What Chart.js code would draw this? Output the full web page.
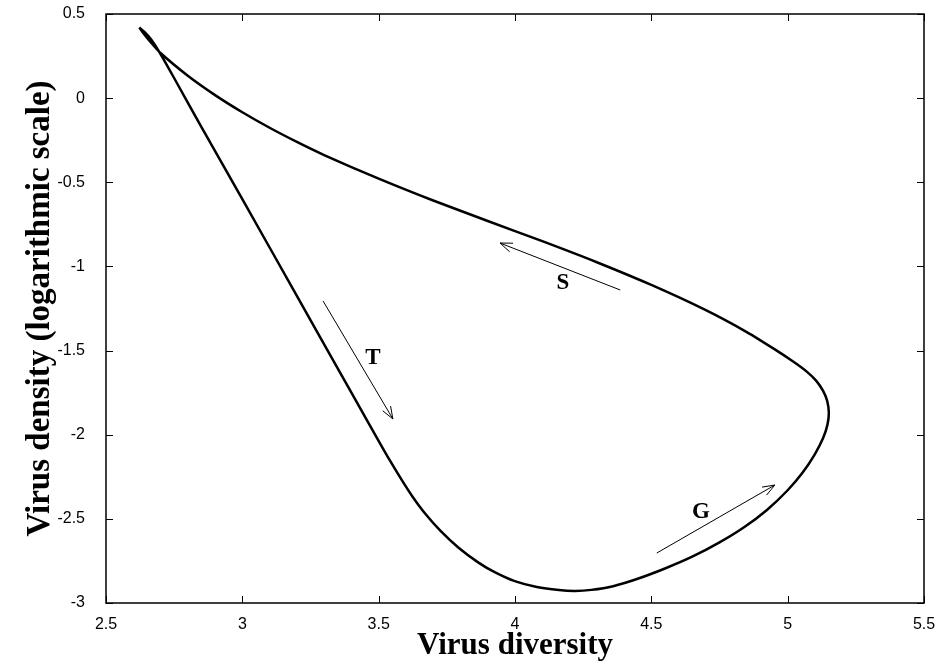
<!DOCTYPE html>
<html>
<head>
<meta charset="utf-8">
<script src="https://cdn.jsdelivr.net/npm/chart.js@4"></script>
<style>
  html, body { margin: 0; padding: 0; background: #fff; }
</style>
</head>
<body>
<canvas id="loopChart" width="941" height="665"></canvas>
<script>
// T branch: from the top-left tip down to the bottom
var tX = [2.622, 2.64, 2.665, 2.698, 2.76, 2.845, 3.0, 3.2, 3.4, 3.494, 3.54, 3.585, 3.625, 3.671, 3.726, 3.792, 3.866, 3.929, 3.999, 4.08, 4.161];
var tY = [0.42, 0.395, 0.35, 0.268, 0.09, -0.157, -0.60, -1.175, -1.75, -2.02, -2.15, -2.27, -2.37, -2.47, -2.57, -2.67, -2.76, -2.82, -2.87, -2.905, -2.923];
// G branch: bottom up to the right-hand turn
var gX = [4.22, 4.28, 4.36, 4.45, 4.55, 4.65, 4.75, 4.84, 4.924, 5.00, 5.055, 5.10, 5.13, 5.146, 5.151];
var gY = [-2.928, -2.922, -2.900, -2.856, -2.795, -2.725, -2.64, -2.55, -2.447, -2.33, -2.225, -2.115, -2.02, -1.94, -1.87];
// S branch: back to the tip
var sX = [5.145, 5.13, 5.105, 5.07, 5.02, 4.95, 4.85, 4.70, 4.50, 4.30, 4.10, 3.90, 3.70, 3.50, 3.30, 3.20, 3.10, 3.00, 2.90, 2.80, 2.70, 2.66, 2.635, 2.622];
var sY = [-1.80, -1.74, -1.68, -1.625, -1.565, -1.49, -1.39, -1.26, -1.11, -0.975, -0.85, -0.730, -0.608, -0.478, -0.338, -0.260, -0.176, -0.084, 0.018, 0.133, 0.268, 0.34, 0.39, 0.42];

// direction arrows (data units)
var arrowNames = ['T', 'G', 'S'];
var arrowFromX = [3.296, 4.520, 4.386];
var arrowFromY = [-1.205, -2.703, -1.140];
var arrowToX   = [3.552, 4.953, 3.945];
var arrowToY   = [-1.906, -2.299, -0.861];
var labelX     = [3.479, 4.682, 4.176];
var labelY     = [-1.544, -2.459, -1.098];

var xTicks = [2.5, 3, 3.5, 4, 4.5, 5, 5.5];
var yTicks = [0.5, 0, -0.5, -1, -1.5, -2, -2.5, -3];

function toPoints(xs, ys){
    var out = [];
    for (var i = 0; i < xs.length; i++) out.push({x: xs[i], y: ys[i]});
    return out;
}
var loop = toPoints(tX, tY).concat(toPoints(gX, gY), toPoints(sX, sY));

// gnuplot-like frame with inward ticks on all four sides
var framePlugin = {
    id: 'frame',
    afterDatasetsDraw: function(chart){
        var ctx = chart.ctx, a = chart.chartArea;
        var xs = chart.scales.x, ys = chart.scales.y, len = 7;
        ctx.save();
        ctx.strokeStyle = '#000';
        ctx.lineWidth = 1;
        ctx.beginPath();
        xTicks.forEach(function(v){
            var px = Math.round(xs.getPixelForValue(v)) + 0.5;
            ctx.moveTo(px, a.bottom); ctx.lineTo(px, a.bottom - len);
            ctx.moveTo(px, a.top); ctx.lineTo(px, a.top + len);
        });
        yTicks.forEach(function(v){
            var py = Math.round(ys.getPixelForValue(v)) + 0.5;
            ctx.moveTo(a.left, py); ctx.lineTo(a.left + len, py);
            ctx.moveTo(a.right, py); ctx.lineTo(a.right - len, py);
        });
        ctx.stroke();
        ctx.lineWidth = 1.5;
        ctx.strokeRect(a.left, a.top, a.right - a.left, a.bottom - a.top);
        ctx.restore();
    }
};

var arrowPlugin = {
    id: 'arrows',
    afterDatasetsDraw: function(chart){
        var ctx = chart.ctx, xs = chart.scales.x, ys = chart.scales.y;
        ctx.save();
        ctx.strokeStyle = '#000';
        ctx.fillStyle = '#000';
        ctx.lineWidth = 1;
        for (var i = 0; i < arrowNames.length; i++) {
            var x0 = xs.getPixelForValue(arrowFromX[i]), y0 = ys.getPixelForValue(arrowFromY[i]);
            var x1 = xs.getPixelForValue(arrowToX[i]), y1 = ys.getPixelForValue(arrowToY[i]);
            var ang = Math.atan2(y1 - y0, x1 - x0), h = 13, spread = 0.36;
            ctx.beginPath();
            ctx.moveTo(x0, y0); ctx.lineTo(x1, y1);
            ctx.moveTo(x1 - h * Math.cos(ang - spread), y1 - h * Math.sin(ang - spread));
            ctx.lineTo(x1, y1);
            ctx.lineTo(x1 - h * Math.cos(ang + spread), y1 - h * Math.sin(ang + spread));
            ctx.stroke();
            ctx.font = 'bold 23px "Liberation Serif", "Times New Roman", serif';
            ctx.textAlign = 'center';
            ctx.textBaseline = 'middle';
            ctx.fillText(arrowNames[i], xs.getPixelForValue(labelX[i]), ys.getPixelForValue(labelY[i]));
        }
        ctx.restore();
    }
};

var tickFont = {family: '"Liberation Sans", Arial, sans-serif', size: 16};

new Chart(document.getElementById('loopChart').getContext('2d'), {
    type: 'scatter',
    data: {
        datasets: [{
            label: 'trajectory',
            data: loop,
            showLine: true,
            borderColor: '#000',
            borderWidth: 2.5,
            pointRadius: 0,
            tension: 0.25,
            fill: false
        }]
    },
    options: {
        responsive: false,
        animation: false,
        layout: {padding: {top: 14, right: 17, left: 0, bottom: 0}},
        plugins: {legend: {display: false}, tooltip: {enabled: false}},
        scales: {
            x: {
                type: 'linear', min: 2.5, max: 5.5,
                afterFit: function(s){ s.height = 62; s.paddingLeft = 0; s.paddingRight = 0; },
                afterBuildTicks: function(s){ s.ticks = xTicks.map(function(v){ return {value: v}; }); },
                grid: {display: false},
                border: {display: false},
                ticks: {color: '#000', padding: 4, maxRotation: 0, font: tickFont,
                        callback: function(v){ return String(v); }},
                title: {display: true, text: 'Virus diversity', color: '#000', padding: {top: 0, bottom: 0},
                        font: {family: '"Liberation Serif", "Times New Roman", serif', size: 31, weight: 'bold'}}
            },
            y: {
                type: 'linear', min: -3, max: 0.5,
                afterFit: function(s){ s.width = 106; s.paddingTop = 0; s.paddingBottom = 0; },
                afterBuildTicks: function(s){ s.ticks = yTicks.map(function(v){ return {value: v}; }); },
                grid: {display: false},
                border: {display: false},
                ticks: {color: '#000', padding: 13, font: tickFont,
                        callback: function(v){ return String(v); }},
                title: {display: true, text: 'Virus density (logarithmic scale)', color: '#000', padding: {top: 21, bottom: 0},
                        font: {family: '"Liberation Serif", "Times New Roman", serif', size: 33, weight: 'bold'}}
            }
        }
    },
    plugins: [framePlugin, arrowPlugin]
});
</script>
</body>
</html>
